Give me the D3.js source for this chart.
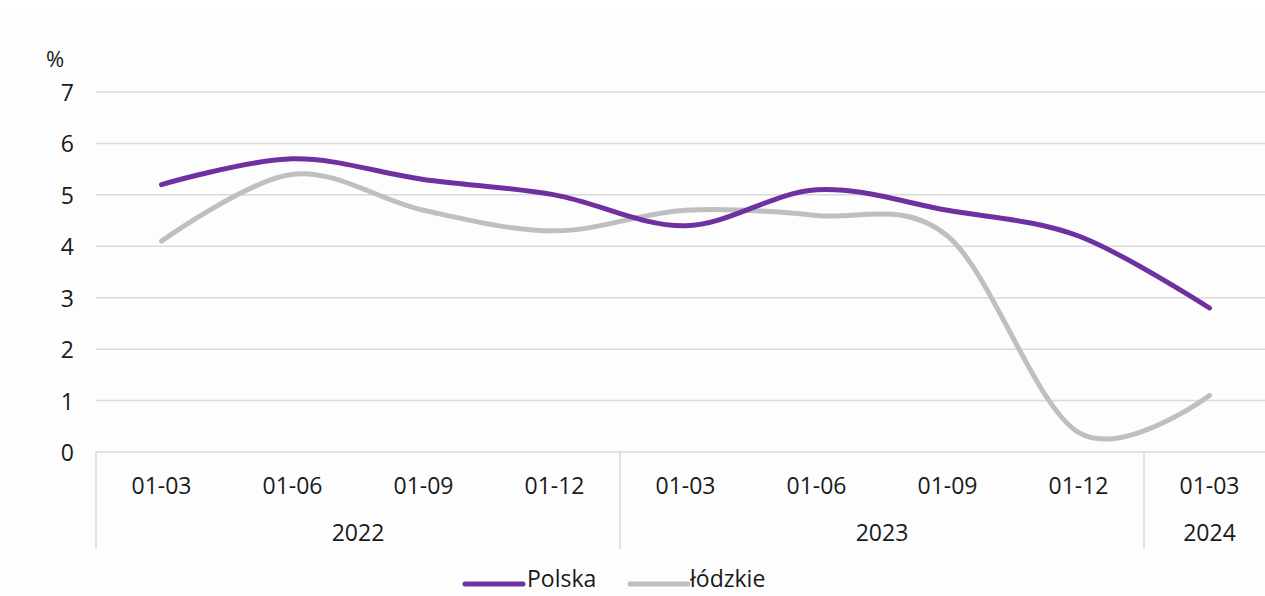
<!DOCTYPE html>
<html>
<head>
<meta charset="utf-8">
<script src="https://cdn.jsdelivr.net/npm/d3@7"></script>
<style>
  html, body { margin: 0; padding: 0; background: #ffffff; }
  svg { display: block; }
  text { font-family: "Open Sans", "Noto Sans", sans-serif; fill: #1a1a1a; }
</style>
</head>
<body>
<svg id="chart" width="1265" height="596"></svg>
<script>
// ---- Data ----
const periods = ["01-03", "01-06", "01-09", "01-12", "01-03", "01-06", "01-09", "01-12", "01-03"];
const years = ["2022", "2023", "2024"];
const yearSpans = [4, 4, 1];
const polska = [5.2, 5.7, 5.3, 5.0, 4.4, 5.1, 4.7, 4.2, 2.8];
const lodzkie = [4.1, 5.4, 4.7, 4.3, 4.7, 4.6, 4.2, 0.38, 1.1];
const yTicks = [0, 1, 2, 3, 4, 5, 6, 7];
const seriesNames = ["Polska", "łódzkie"];
const seriesColors = ["#7030A0", "#BFBFBF"];

// ---- Layout ----
const svg = d3.select("#chart");
const W = 1265, H = 596;
const plotLeft = 96, bandW = 131;
const plotTop = 92, plotBottom = 452;

svg.append("rect").attr("x", 0).attr("y", 13).attr("width", W).attr("height", H - 13).attr("fill", "#fdfdfd");

const keys = periods.map((p, i) => i);
const x = d3.scaleBand().domain(keys).range([plotLeft, plotLeft + bandW * periods.length]).padding(0);
const y = d3.scaleLinear().domain([0, 7]).range([plotBottom, plotTop]);

// gridlines
svg.append("g").selectAll("line").data(yTicks.filter(t => t > 0)).join("line")
  .attr("x1", plotLeft).attr("x2", W)
  .attr("y1", d => y(d)).attr("y2", d => y(d))
  .attr("stroke", "#d9d9d9").attr("stroke-width", 1.5);

// y labels
svg.append("g").selectAll("text").data(yTicks).join("text")
  .attr("x", 74).attr("y", d => y(d))
  .attr("text-anchor", "end").attr("dominant-baseline", "central")
  .style("font-size", "23px").text(d => d);

svg.append("text").attr("x", 55).attr("y", 58).attr("text-anchor", "middle")
  .attr("dominant-baseline", "central").style("font-size", "22px").text("%");

// x axis line
svg.append("line").attr("x1", plotLeft).attr("x2", W).attr("y1", plotBottom).attr("y2", plotBottom)
  .attr("stroke", "#d9d9d9").attr("stroke-width", 1.5);

// year separators
const sepIdx = [0];
let acc = 0;
yearSpans.forEach(s => { acc += s; sepIdx.push(acc); });
svg.append("g").selectAll("line").data(sepIdx.filter(i => i < periods.length)).join("line")
  .attr("x1", d => x(d)).attr("x2", d => x(d))
  .attr("y1", plotBottom).attr("y2", 549)
  .attr("stroke", "#d9d9d9").attr("stroke-width", 1.5);

// period labels
svg.append("g").selectAll("text").data(keys).join("text")
  .attr("x", d => x(d) + x.bandwidth() / 2).attr("y", 485)
  .attr("text-anchor", "middle").attr("dominant-baseline", "central")
  .style("font-size", "23px").text(d => periods[d]);

// year labels
let start = 0;
years.forEach((yr, i) => {
  const s = start, e = start + yearSpans[i];
  const cx = (x(s) + x(e - 1) + x.bandwidth()) / 2;
  svg.append("text").attr("x", cx).attr("y", 532)
    .attr("text-anchor", "middle").attr("dominant-baseline", "central")
    .style("font-size", "23px").text(yr);
  start = e;
});

// lines
const line = d3.line()
  .x((d, i) => x(i) + x.bandwidth() / 2)
  .y(d => y(d))
  .curve(d3.curveCardinal.tension(0));

[lodzkie, polska].forEach((vals, k) => {
  const color = k === 0 ? seriesColors[1] : seriesColors[0];
  svg.append("path").datum(vals).attr("d", line)
    .attr("fill", "none").attr("stroke", color)
    .attr("stroke-width", 5).attr("stroke-linecap", "round").attr("stroke-linejoin", "round");
});

// legend
const legend = [
  { name: seriesNames[0], color: seriesColors[0], x0: 465, tx: 527 },
  { name: seriesNames[1], color: seriesColors[1], x0: 630, tx: 690 }
];
legend.forEach(l => {
  svg.append("line").attr("x1", l.x0).attr("x2", l.x0 + 58).attr("y1", 584).attr("y2", 584)
    .attr("stroke", l.color).attr("stroke-width", 5).attr("stroke-linecap", "round");
  svg.append("text").attr("x", l.tx).attr("y", 578).attr("dominant-baseline", "central")
    .style("font-size", "23px").text(l.name);
});
</script>
</body>
</html>
